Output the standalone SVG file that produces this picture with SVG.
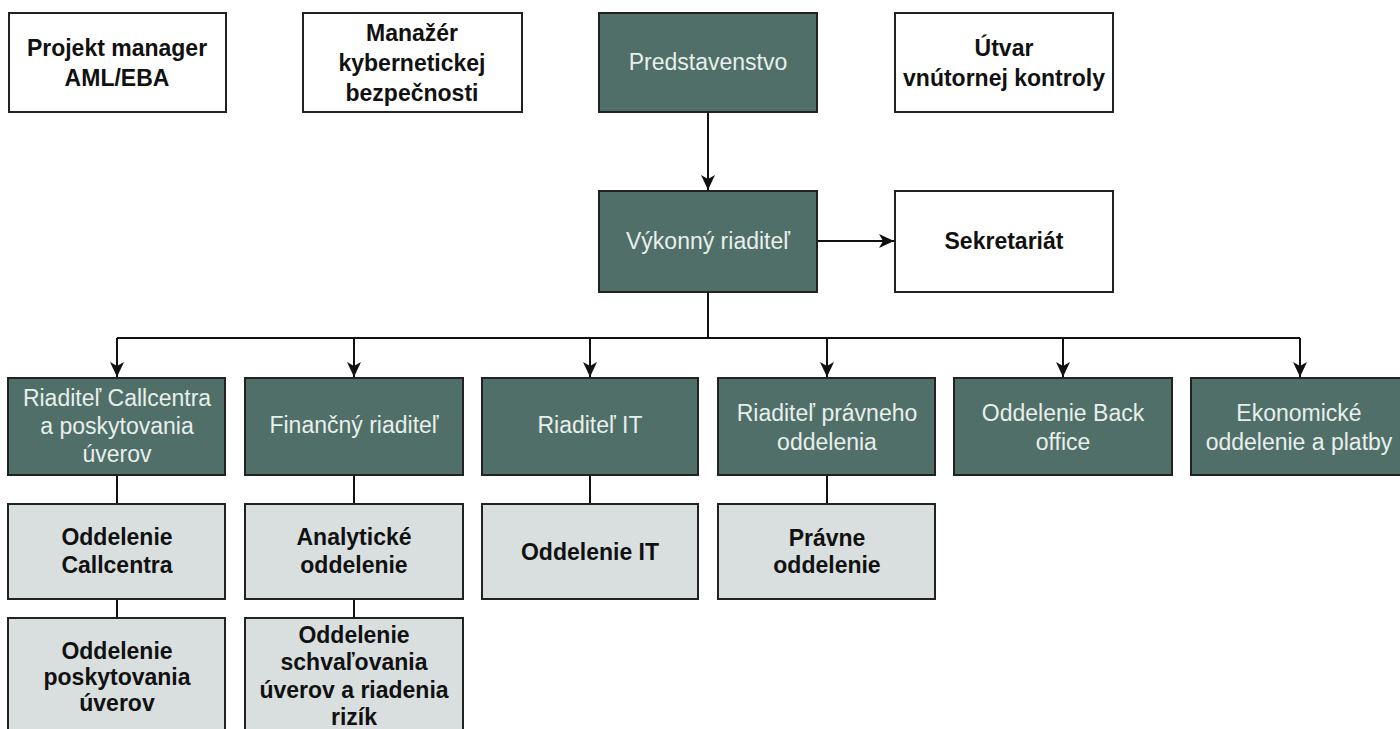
<svg xmlns="http://www.w3.org/2000/svg" width="1400" height="729" viewBox="0 0 1400 729">
<style>
.w{fill:#ffffff;stroke:#222;stroke-width:2}
.d{fill:#4f6f68;stroke:#222;stroke-width:2}
.l{fill:#d9dfde;stroke:#222;stroke-width:2}
.tb{font-family:"Liberation Sans",Arial,sans-serif;font-size:23px;font-weight:bold;fill:#111;text-anchor:middle}
.tr{font-family:"Liberation Sans",Arial,sans-serif;font-size:23px;fill:#e8efec;text-anchor:middle}
.c{stroke:#111;stroke-width:2;fill:none}
</style>
<defs>
<marker id="ah" viewBox="0 0 15 14" refX="15" refY="7" markerWidth="15" markerHeight="14" markerUnits="userSpaceOnUse" orient="auto">
<path d="M0,0 L15,7 L0,14 L4,7 z" fill="#111"/>
</marker>
</defs>
<rect width="1400" height="729" fill="#ffffff"/>
<g id="connectors">
<line class="c" x1="708" y1="112" x2="708" y2="190" marker-end="url(#ah)"/>
<line class="c" x1="818" y1="241" x2="894" y2="241" marker-end="url(#ah)"/>
<polyline class="c" points="708,292 708,338"/>
<line class="c" x1="117" y1="338" x2="1300" y2="338"/>
<line class="c" x1="117" y1="338" x2="117" y2="377" marker-end="url(#ah)"/>
<line class="c" x1="354" y1="338" x2="354" y2="377" marker-end="url(#ah)"/>
<line class="c" x1="590" y1="338" x2="590" y2="377" marker-end="url(#ah)"/>
<line class="c" x1="827" y1="338" x2="827" y2="377" marker-end="url(#ah)"/>
<line class="c" x1="1063" y1="338" x2="1063" y2="377" marker-end="url(#ah)"/>
<line class="c" x1="1300" y1="338" x2="1300" y2="377" marker-end="url(#ah)"/>
<line class="c" x1="117" y1="475" x2="117" y2="504"/>
<line class="c" x1="117" y1="599" x2="117" y2="618"/>
<line class="c" x1="354" y1="475" x2="354" y2="504"/>
<line class="c" x1="354" y1="599" x2="354" y2="618"/>
<line class="c" x1="590" y1="475" x2="590" y2="504"/>
<line class="c" x1="827" y1="475" x2="827" y2="504"/>
</g>
<g id="projekt-manager"><rect class="w" x="9" y="13" width="217" height="99"/>
<text class="tb" x="117" y="56">Projekt manager</text><text class="tb" x="117" y="86">AML/EBA</text></g>
<g id="manazer-kyber"><rect class="w" x="303" y="13" width="219" height="99"/>
<text class="tb" x="412" y="41">Manažér</text><text class="tb" x="412" y="71">kybernetickej</text><text class="tb" x="412" y="101">bezpečnosti</text></g>
<g id="predstavenstvo"><rect class="d" x="599" y="13" width="218" height="99"/>
<text class="tr" x="708" y="70">Predstavenstvo</text></g>
<g id="utvar"><rect class="w" x="895" y="13" width="218" height="99"/>
<text class="tb" x="1004" y="56">Útvar</text><text class="tb" x="1004" y="86">vnútornej kontroly</text></g>
<g id="vykonny"><rect class="d" x="599" y="191" width="218" height="101"/>
<text class="tr" x="708" y="249">Výkonný riaditeľ</text></g>
<g id="sekretariat"><rect class="w" x="895" y="191" width="218" height="101"/>
<text class="tb" x="1004" y="249">Sekretariát</text></g>
<g id="riaditel-callcentra"><rect class="d" x="8" y="378" width="217" height="97"/>
<text class="tr" x="117" y="406">Riaditeľ Callcentra</text><text class="tr" x="117" y="434">a poskytovania</text><text class="tr" x="117" y="462">úverov</text></g>
<g id="financny"><rect class="d" x="245" y="378" width="218" height="97"/>
<text class="tr" x="354" y="433">Finančný riaditeľ</text></g>
<g id="riaditel-it"><rect class="d" x="482" y="378" width="216" height="97"/>
<text class="tr" x="590" y="433">Riaditeľ IT</text></g>
<g id="riaditel-pravneho"><rect class="d" x="718" y="378" width="217" height="97"/>
<text class="tr" x="827" y="421">Riaditeľ právneho</text><text class="tr" x="827" y="450">oddelenia</text></g>
<g id="back-office"><rect class="d" x="954" y="378" width="218" height="97"/>
<text class="tr" x="1063" y="421">Oddelenie Back</text><text class="tr" x="1063" y="450">office</text></g>
<g id="ekonomicke"><rect class="d" x="1191" y="378" width="217" height="97"/>
<text class="tr" x="1299" y="421">Ekonomické</text><text class="tr" x="1299" y="450">oddelenie a platby</text></g>
<g id="odd-callcentra"><rect class="l" x="8" y="504" width="217" height="95"/>
<text class="tb" x="117" y="545">Oddelenie</text><text class="tb" x="117" y="573">Callcentra</text></g>
<g id="analyticke"><rect class="l" x="245" y="504" width="218" height="95"/>
<text class="tb" x="354" y="545">Analytické</text><text class="tb" x="354" y="573">oddelenie</text></g>
<g id="odd-it"><rect class="l" x="482" y="504" width="216" height="95"/>
<text class="tb" x="590" y="560">Oddelenie IT</text></g>
<g id="pravne"><rect class="l" x="718" y="504" width="217" height="95"/>
<text class="tb" x="827" y="546">Právne</text><text class="tb" x="827" y="573">oddelenie</text></g>
<g id="odd-poskytovania"><rect class="l" x="8" y="618" width="217" height="120"/>
<text class="tb" x="117" y="659">Oddelenie</text><text class="tb" x="117" y="685">poskytovania</text><text class="tb" x="117" y="711">úverov</text></g>
<g id="odd-schvalovania"><rect class="l" x="245" y="618" width="218" height="120"/>
<text class="tb" x="354" y="643">Oddelenie</text><text class="tb" x="354" y="670">schvaľovania</text><text class="tb" x="354" y="698">úverov a riadenia</text><text class="tb" x="354" y="725">rizík</text></g>
</svg>
